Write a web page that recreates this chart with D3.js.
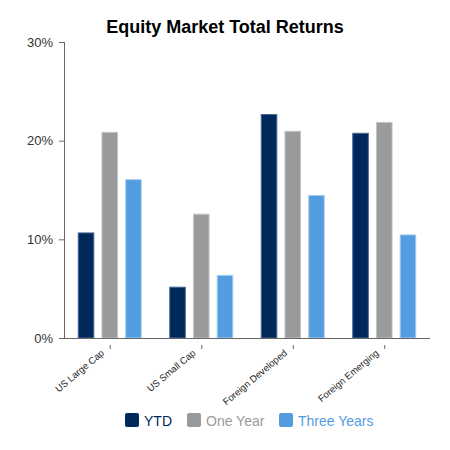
<!DOCTYPE html>
<html>
<head>
<meta charset="utf-8">
<script src="https://cdn.jsdelivr.net/npm/d3@7"></script>
<style>
  body { margin: 0; background: #fff; }
  svg { display: block; font-family: "Liberation Sans", Arial, sans-serif; }
</style>
</head>
<body>
<div id="chart"></div>
<script>
// chart data
const categories = ["US Large Cap", "US Small Cap", "Foreign Developed", "Foreign Emerging"];
const seriesNames = ["YTD", "One Year", "Three Years"];
const ytd = [10.7, 5.2, 22.7, 20.8];
const oneYear = [20.9, 12.6, 21.0, 21.9];
const threeYears = [16.1, 6.4, 14.5, 10.5];
const yTicks = [0, 10, 20, 30];

const colors = ["#00285a", "#999a9c", "#529ddf"];
const strokes = ["#4a6a92", "#c4c5c7", "#a9cdf0"];

const width = 450, height = 450;
const margin = { top: 42, right: 20, bottom: 112, left: 64 };

const svg = d3.select('#chart').append('svg')
  .attr('width', width)
  .attr('height', height);

const series = [ytd, oneYear, threeYears];
const rows = categories.map((c, i) => ({ cat: c, vals: series.map(s => s[i]) }));

let x0 = d3.scaleBand()
  .domain(categories)
  .range([margin.left, width - margin.right])
  .paddingInner(0.3)
  .paddingOuter(0.15);

let x1 = d3.scaleBand()
  .domain(seriesNames)
  .range([0, x0.bandwidth()])
  .paddingInner(0.3);

let y = d3.scaleLinear()
  .domain([0, 30])
  .range([height - margin.bottom, margin.top]);

// title
svg.append('text')
  .attr('x', 225)
  .attr('y', 33)
  .attr('text-anchor', 'middle')
  .attr('font-size', 18)
  .attr('font-weight', 'bold')
  .attr('fill', '#000')
  .text("Equity Market Total Returns");

// bars
let groups = svg.append('g').selectAll('g')
  .data(rows)
  .join('g')
  .attr('transform', d => "translate(" + x0(d.cat) + ",0)");

groups.selectAll('rect')
  .data(d => d.vals.map((v, k) => ({ key: seriesNames[k], k: k, v: v })))
  .join('rect')
  .attr('x', d => x1(d.key) + 0.5)
  .attr('y', d => y(d.v) + 0.5)
  .attr('width', d => x1.bandwidth() - 1)
  .attr('height', d => y(0) - y(d.v) - 0.5)
  .attr('fill', d => colors[d.k])
  .attr('stroke', d => strokes[d.k])
  .attr('stroke-width', 1);

// y axis
let yAxis = svg.append('g')
  .attr('transform', "translate(" + margin.left + ",0)")
  .call(d3.axisLeft(y).tickValues(yTicks).tickFormat(d => d + "%").tickSize(5).tickPadding(6));
yAxis.select('.domain').attr('stroke', '#666').attr('d', "M0.5," + margin.top + "V" + y(0));
yAxis.selectAll('.tick line').attr('stroke', '#666');
yAxis.selectAll('.tick text').attr('font-size', 13).attr('fill', '#333').attr('font-family', '"Liberation Sans", Arial, sans-serif');

// x axis
let xAxis = svg.append('g')
  .attr('transform', "translate(0," + y(0) + ")")
  .call(d3.axisBottom(x0).tickSize(0).tickPadding(0));
xAxis.select('.domain').attr('stroke', '#666').attr('d', "M" + margin.left + ",0.5H" + (width - margin.right));
xAxis.selectAll('.tick line').remove();
xAxis.selectAll('.tick').append('line')
  .attr('x1', 0.5).attr('x2', 0.5)
  .attr('y1', 7).attr('y2', 11)
  .attr('stroke', '#666');
xAxis.selectAll('.tick text')
  .attr('font-size', 9.5)
  .attr('fill', '#222')
  .attr('font-family', '"Liberation Sans", Arial, sans-serif')
  .attr('text-anchor', 'end')
  .attr('dy', null)
  .attr('transform', "translate(-5,16) rotate(-40)");

// legend
const legendX = [125, 187, 279];
let legend = svg.append('g').selectAll('g')
  .data(seriesNames)
  .join('g')
  .attr('transform', (d, i) => "translate(" + legendX[i] + ",413)");
legend.append('rect')
  .attr('width', 14).attr('height', 14)
  .attr('rx', 2)
  .attr('fill', (d, i) => colors[i]);
legend.append('text')
  .attr('x', 19).attr('y', 12.5)
  .attr('font-size', 14)
  .attr('fill', (d, i) => colors[i])
  .text(d => d);
</script>
</body>
</html>
